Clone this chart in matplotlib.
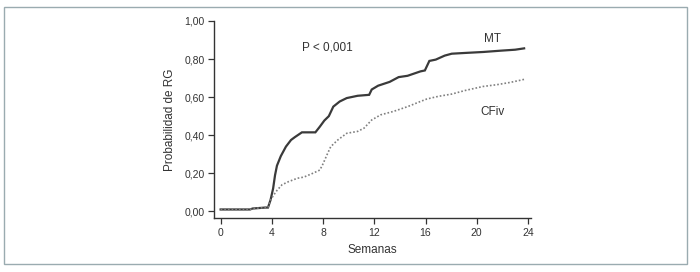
import matplotlib
matplotlib.use('Agg')
import matplotlib.pyplot as plt
from matplotlib.patches import Rectangle
from matplotlib.ticker import FuncFormatter

# Kaplan-Meier style curves
mt_weeks = [0, 2.3, 2.5, 3.5, 3.7, 3.9, 4.1, 4.25, 4.4, 4.7, 5.1, 5.5, 5.8, 6.35, 7.4,
            7.75, 8.1, 8.45, 8.8, 9.3, 9.85, 10.7, 11.6, 11.8, 12.3, 13.2, 13.9,
            14.6, 15.6, 15.95, 16.3, 16.8, 17.5, 18.05, 19.1, 20.5, 21.9, 23.0, 23.7]
mt_prob = [0.01, 0.01, 0.015, 0.02, 0.02, 0.06, 0.12, 0.19, 0.24, 0.29, 0.34, 0.375, 0.39,
           0.415, 0.415, 0.445, 0.477, 0.50, 0.55, 0.577, 0.595, 0.607, 0.612, 0.64,
           0.66, 0.68, 0.705, 0.712, 0.735, 0.74, 0.79, 0.797, 0.818, 0.828, 0.832,
           0.837, 0.844, 0.849, 0.856]

cf_weeks = [0, 2.3, 2.5, 3.5, 3.7, 3.9, 4.15, 4.4, 4.8, 5.3, 6.0, 6.5, 7.2, 7.75, 8.0,
            8.3, 8.6, 9.15, 9.85, 10.7, 11.2, 11.8, 12.5, 13.5, 14.6, 15.6, 16.1,
            17.0, 18.05, 19.1, 20.5, 21.55, 22.6, 23.5, 23.8]
cf_prob = [0.01, 0.01, 0.015, 0.02, 0.02, 0.06, 0.086, 0.11, 0.14, 0.156, 0.174, 0.18,
           0.20, 0.217, 0.25, 0.296, 0.34, 0.375, 0.41, 0.42, 0.437, 0.48, 0.507,
           0.525, 0.55, 0.577, 0.59, 0.604, 0.616, 0.635, 0.656, 0.665, 0.677,
           0.69, 0.695]

x_ticks = [0, 4, 8, 12, 16, 20, 24]
y_ticks = [0.0, 0.2, 0.4, 0.6, 0.8, 1.0]

plt.rcParams['font.family'] = ['Liberation Sans', 'DejaVu Sans']

fig = plt.figure(figsize=(7, 2.72), dpi=100)
ax = fig.add_axes([0.306, 0.197, 0.453, 0.726])

ax.plot(mt_weeks, mt_prob, color='#3a3a3a', lw=1.6, solid_joinstyle='miter')
ax.plot(cf_weeks, cf_prob, color='#808080', lw=1.2, linestyle=(0, (1, 1.2)))

ax.set_xlim(-0.5, 24.26)
ax.set_ylim(-0.037, 1.0)
ax.set_xticks(x_ticks)
ax.set_yticks(y_ticks)
ax.yaxis.set_major_formatter(FuncFormatter(lambda v, p: f'{v:.2f}'.replace('.', ',')))

for side in ['top', 'right']:
    ax.spines[side].set_visible(False)
for side in ['left', 'bottom']:
    ax.spines[side].set_color('#333333')
    ax.spines[side].set_linewidth(1.0)
ax.tick_params(direction='out', length=4, width=0.9, colors='#333333',
               labelsize=7.5, pad=3)

ax.set_xlabel('Semanas', fontsize=8.5, color='#333333', labelpad=4)
ax.set_ylabel('Probabilidad de RG', fontsize=8.5, color='#333333', labelpad=6)

ax.text(8.3, 0.86, 'P < 0,001', fontsize=8.5, color='#333333', ha='center', va='center')
ax.text(21.2, 0.905, 'MT', fontsize=8.5, color='#333333', ha='center', va='center')
ax.text(21.2, 0.52, 'CFiv', fontsize=8.5, color='#333333', ha='center', va='center')

fig.patches.append(Rectangle((0.0061, 0.0283), 0.976, 0.946, transform=fig.transFigure,
                             fill=False, edgecolor='#9aabb0', lw=1.0))

fig.savefig('out.png', dpi=100)
